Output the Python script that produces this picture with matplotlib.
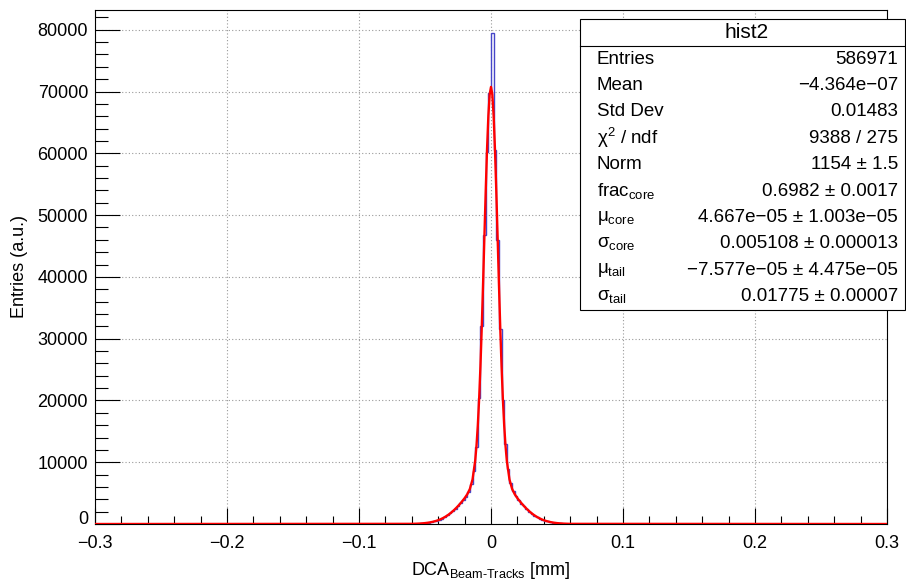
import numpy as np
import matplotlib
matplotlib.use("Agg")
import matplotlib.pyplot as plt
import matplotlib.transforms as mtransforms
from matplotlib.patches import Rectangle
from matplotlib.lines import Line2D

plt.rcParams['font.family'] = ['Liberation Sans', 'DejaVu Sans']
plt.rcParams['mathtext.fontset'] = 'custom'
plt.rcParams['mathtext.rm'] = 'Liberation Sans'
plt.rcParams['mathtext.it'] = 'Liberation Sans:italic'
plt.rcParams['mathtext.sf'] = 'Liberation Sans'

# histogram: 300 bins between -0.3 and 0.3, only |x| < 0.06 is visibly filled
x_min, x_max, n_bins = -0.3, 0.3, 300
# bin contents from -0.060 to +0.060 (60 bins of 0.002)
core_counts = [31, 45, 64, 92, 125, 175, 235, 315, 420, 540,
               700, 880, 1130, 1400, 1720, 2050, 2450, 2850, 3400, 3950,
               4400, 5200, 6500, 8600, 12500, 20400, 32000, 46800, 60200, 69800,
               79400, 60500, 46000, 31500, 20000, 12900, 8900, 6600, 5300, 4500,
               3850, 3300, 2850, 2400, 2000, 1650, 1350, 1080, 860, 680,
               530, 410, 310, 230, 170, 125, 90, 64, 45, 31]
core_first_bin = 120

# fit curve
fit_x = [-0.3, -0.060, -0.058, -0.056, -0.054, -0.052, -0.050, -0.048, -0.046,
         -0.044, -0.042, -0.040, -0.038, -0.036, -0.034, -0.032, -0.030, -0.028,
         -0.026, -0.024, -0.022, -0.020, -0.018, -0.016, -0.014,
         -0.012, -0.011, -0.010, -0.009, -0.008, -0.007, -0.006, -0.005, -0.004,
         -0.003, -0.002, -0.001, 0.0,
         0.001, 0.002, 0.003, 0.004, 0.005, 0.006, 0.007, 0.008, 0.009, 0.010,
         0.011, 0.012, 0.014, 0.016, 0.018, 0.020, 0.022, 0.024, 0.026, 0.028,
         0.030, 0.032, 0.034, 0.036, 0.038, 0.040, 0.042, 0.044, 0.046, 0.048,
         0.050, 0.052, 0.054, 0.056, 0.058, 0.060, 0.3]
fit_y = [0, 26, 38, 54, 76, 107, 148, 202, 272,
         363, 476, 618, 791, 1001, 1250, 1541, 1876, 2256,
         2677, 3138, 3640, 4179, 4808, 5679, 7206,
         10210, 12650, 15940, 20210, 25530, 31840, 38960, 46500, 53940,
         60670, 66060, 69540, 70750,
         69540, 66060, 60670, 53940, 46500, 38960, 31840, 25530, 20210, 15940,
         12650, 10210, 7206, 5679, 4808, 4179, 3640, 3138, 2677, 2256,
         1876, 1541, 1250, 1001, 791, 618, 476, 363, 272, 202,
         148, 107, 76, 54, 38, 26, 0]

stats_title = "hist2"
stats_names = ["Entries", "Mean", "Std Dev", "χ$^{2}$ / ndf", "Norm",
               r"frac$_{\mathrm{core}}$", r"μ$_{\mathrm{core}}$", r"σ$_{\mathrm{core}}$",
               r"μ$_{\mathrm{tail}}$", r"σ$_{\mathrm{tail}}$"]
stats_values = ["586971", "−4.364e−07", "0.01483", "9388 / 275", "1154 ± 1.5",
                "0.6982 ± 0.0017", "4.667e−05 ± 1.003e−05", "0.005108 ± 0.000013",
                "−7.577e−05 ± 4.475e−05", "0.01775 ± 0.00007"]

edges = np.linspace(x_min, x_max, n_bins + 1)
counts = np.zeros(n_bins)
counts[core_first_bin:core_first_bin + len(core_counts)] = core_counts

W, H = 906, 586
fig = plt.figure(figsize=(W / 100, H / 100), dpi=100)
ax = fig.add_axes([95 / W, 1 - 524 / H, 792 / W, 514 / H])

ax.stairs(counts, edges, color='#4646c8', lw=1.0, zorder=3)
ax.plot(fit_x, fit_y, color='#ff0000', lw=1.7, zorder=4)

ax.set_xlim(x_min, x_max)
ax.set_ylim(0, 83200)
ax.set_xticks(np.arange(-0.3, 0.31, 0.1))
ax.set_xticklabels(["−0.3", "−0.2", "−0.1", "0", "0.1", "0.2", "0.3"])
ax.set_xticks(np.arange(-0.3, 0.301, 0.02), minor=True)
ax.set_yticks(np.arange(0, 80001, 10000))
ax.set_yticks(np.arange(0, 83001, 2000), minor=True)

ax.tick_params(axis='x', which='major', direction='in', length=11.5, width=0.8,
               labelsize=13, pad=8, top=False)
ax.tick_params(axis='x', which='minor', direction='in', length=5.8, width=0.8, top=False)
ax.tick_params(axis='y', which='major', direction='in', length=18, width=0.8,
               labelsize=13, pad=5, right=False)
ax.tick_params(axis='y', which='minor', direction='in', length=9, width=0.8, right=False)

# lift the "0" on the y axis a little, like ROOT does
lbl0 = ax.get_yticklabels()[0]
lbl0.set_transform(lbl0.get_transform() +
                   mtransforms.ScaledTranslation(0, 7 / 100, fig.dpi_scale_trans))

ax.grid(True, which='major', color='#999999', ls=(0, (1, 2)), lw=0.8)
for s in ax.spines.values():
    s.set_linewidth(0.8)

ax.set_xlabel(r"DCA$_{\mathrm{Beam\text{-}Tracks}}$ [mm]", fontsize=13)
ax.xaxis.set_label_coords(0.5, -0.07)
ax.set_ylabel("Entries (a.u.)", fontsize=13)
ax.yaxis.set_label_coords(-0.084, 0.5)

# stats box
bx0, bx1 = 580 / W, 905 / W
by_top, by_bot = 1 - 19 / H, 1 - 310 / H
fig.add_artist(Rectangle((bx0, by_bot), bx1 - bx0, by_top - by_bot,
                         transform=fig.transFigure, facecolor='white',
                         edgecolor='black', lw=0.8, zorder=10))
sep = 1 - 46 / H
fig.add_artist(Line2D([bx0, bx1], [sep, sep], transform=fig.transFigure,
                      color='black', lw=0.8, zorder=11))
fig.text((bx0 + bx1) / 2 + 4 / W, 1 - 33 / H, stats_title, ha='center', va='center',
         fontsize=15, zorder=12)
row_h = 26.4
for i, (name, val) in enumerate(zip(stats_names, stats_values)):
    yc = 1 - (46 + row_h / 2 + row_h * i) / H
    fig.text(597 / W, yc, name, ha='left', va='center', fontsize=13.5, zorder=12)
    fig.text(898 / W, yc, val, ha='right', va='center', fontsize=13.5, zorder=12)

fig.savefig("out.png", dpi=100)
